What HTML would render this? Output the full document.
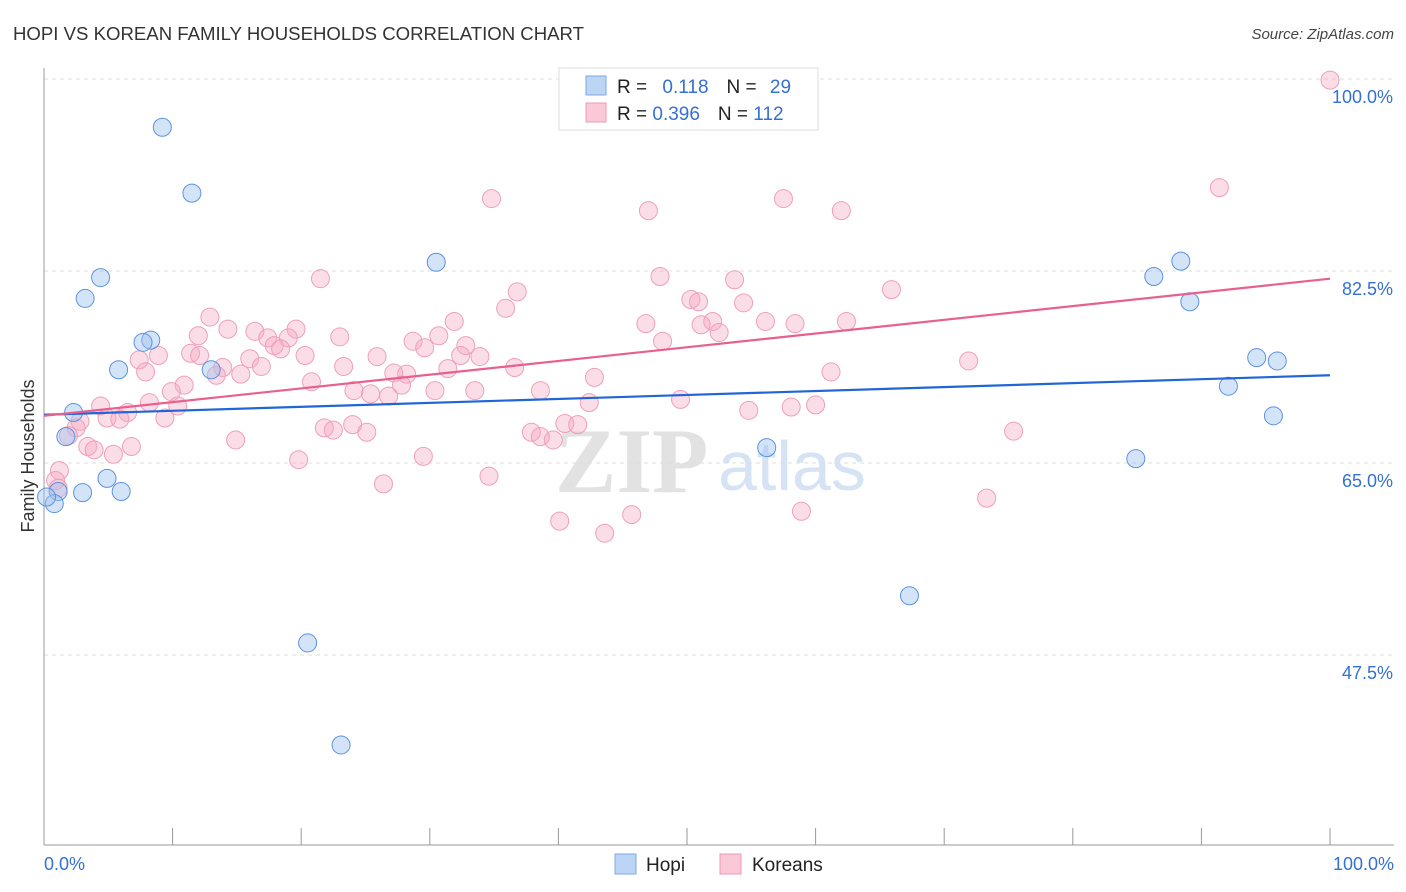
<!DOCTYPE html>
<html><head><meta charset="utf-8"><style>
body{margin:0;background:#fff;font-family:"Liberation Sans",sans-serif}
svg{display:block}
</style></head><body>
<svg id="chart" width="1406" height="892" xmlns="http://www.w3.org/2000/svg">
<text x="13" y="40" font-size="18.6" fill="#333">HOPI VS KOREAN FAMILY HOUSEHOLDS CORRELATION CHART</text>
<text x="1394" y="39" font-size="15" fill="#444" font-style="italic" text-anchor="end">Source: ZipAtlas.com</text>
<text x="555" y="492" font-size="92" fill="#e2e2e2" font-family="Liberation Serif,serif" font-weight="bold">ZIP</text>
<text x="718" y="490" font-size="70" fill="#d5e3f5">atlas</text>
<g id="grid"></g>
<g id="axes"></g>
<g id="pts"></g>
<g id="lines"></g>
<text transform="translate(34,456) rotate(-90)" font-size="18" fill="#333" text-anchor="middle">Family Households</text>
<g>
<rect x="559" y="68" width="259" height="62" fill="#fff" stroke="#ddd"/>
<rect x="586" y="76" width="20" height="19" fill="#bcd5f5" stroke="#7ea9e6"/>
<rect x="586" y="103" width="20" height="19" fill="#fbc8d8" stroke="#ee9ab5"/>
<text x="617" y="93" font-size="19" fill="#222">R = <tspan fill="#3570d4" dx="10">0.118</tspan><tspan dx="18" fill="#222">N = </tspan><tspan dx="8" fill="#3570d4">29</tspan></text>
<text x="617" y="120" font-size="19" fill="#222">R = <tspan fill="#3570d4">0.396</tspan><tspan dx="18" fill="#222">N = </tspan><tspan fill="#3570d4">112</tspan></text>
</g>
<g>
<rect x="615" y="854" width="21" height="20" fill="#bcd5f5" stroke="#7ea9e6"/>
<text x="646" y="871" font-size="19" fill="#222">Hopi</text>
<rect x="720" y="854" width="21" height="20" fill="#fbc8d8" stroke="#ee9ab5"/>
<text x="752" y="871" font-size="19" fill="#222">Koreans</text>
</g>
</svg>
<script>
const yTicks=[100,82.5,65,47.5];
const yTickLabels=["100.0%","82.5%","65.0%","47.5%"];
const xTickLabels=["0.0%","100.0%"];
const hopiX=[9.2,11.5,4.4,3.2,30.5,8.3,7.7,5.8,13.0,2.3,1.7,4.9,6.0,3.0,1.1,0.8,0.2,20.5,23.1,56.2,67.3,84.9,86.3,88.4,89.1,94.3,95.9,92.1,95.6];
const hopiY=[95.6,89.6,81.9,80.0,83.3,76.2,76.0,73.5,73.5,69.6,67.4,63.6,62.4,62.3,62.4,61.3,61.9,48.6,39.3,66.4,52.9,65.4,82.0,83.4,79.7,74.6,74.3,72.0,69.3];
const korX=[100,91.4,34.8,47.0,57.5,62.0,21.5,36.8,47.9,53.7,65.9,35.9,50.3,50.9,54.4,12.9,31.9,46.8,52.0,51.1,56.1,58.4,62.4,14.3,16.4,19.6,12.0,23.0,30.7,52.5,17.4,19.0,28.7,48.1,17.9,18.4,29.6,32.8,8.9,11.4,12.1,20.3,25.9,32.4,33.9,7.4,16.0,71.9,16.9,23.3,36.6,13.9,31.4,7.9,15.3,13.4,27.2,28.2,61.2,42.8,20.8,10.9,27.8,9.9,24.1,25.4,26.8,30.4,33.5,38.6,8.2,42.4,49.5,4.4,10.4,6.5,54.8,58.1,60.0,4.9,5.9,9.4,2.8,2.5,40.5,41.5,21.8,22.5,24.0,25.1,37.9,38.6,39.6,75.4,1.9,14.9,3.4,6.8,3.9,5.4,19.8,29.5,34.6,1.2,0.9,1.1,26.4,73.3,58.9,45.7,40.1,43.6];
const korY=[99.9,90.1,89.1,88.0,89.1,88.0,81.8,80.6,82.0,81.7,80.8,79.1,79.9,79.7,79.6,78.3,77.9,77.7,77.9,77.6,77.9,77.7,77.9,77.2,77.0,77.2,76.6,76.5,76.6,76.9,76.4,76.4,76.1,76.1,75.7,75.4,75.5,75.7,74.8,75.0,74.8,74.8,74.7,74.8,74.7,74.4,74.5,74.3,73.8,73.8,73.7,73.7,73.6,73.3,73.1,73.0,73.2,73.1,73.3,72.8,72.4,72.1,72.1,71.5,71.6,71.3,71.1,71.6,71.6,71.6,70.5,70.5,70.8,70.2,70.2,69.6,69.8,70.1,70.3,69.1,69.0,69.1,68.8,68.2,68.6,68.5,68.2,68.0,68.5,67.8,67.8,67.4,67.1,67.9,67.5,67.1,66.5,66.5,66.2,65.8,65.3,65.6,63.8,64.3,63.4,62.7,63.1,61.8,60.6,60.3,59.7,58.6];
const hopiTrend=[69.4,73.0];
const korTrend=[69.3,81.8];
const NS="http://www.w3.org/2000/svg";
const X=v=>44+v*12.86, Y=v=>79+(100-v)*192/17.5;
function mk(t,a,p){const e=document.createElementNS(NS,t);for(const k in a)e.setAttribute(k,a[k]);p.appendChild(e);return e;}
const grid=document.getElementById('grid'),axes=document.getElementById('axes'),pts=document.getElementById('pts'),lines=document.getElementById('lines');
yTicks.forEach((v,i)=>{
 const l=mk('line',{x1:44,x2:1394,y1:Y(v),y2:Y(v),stroke:'#ddd','stroke-dasharray':'4,4'},grid);
 
 
 const t=mk('text',{x:1393,y:Y(v)+24,'font-size':18,fill:'#3570d4','text-anchor':'end'},grid);
 t.textContent=yTickLabels[i];
 
 
});
const ya=mk('line',{x1:44,x2:44,y1:68,y2:845,stroke:'#999'},axes);


const xa=mk('line',{x1:44,x2:1394,y1:845,y2:845,stroke:'#999'},axes);


for(let i=0;i<=10;i++){const tk=mk('line',{x1:X(i*10),x2:X(i*10),y1:828,y2:845,stroke:'#999'},axes);
 
 }
[[0,'start',44],[1,'end',1394]].forEach(([i,a,x])=>{const t=mk('text',{x:x,y:870,'font-size':18,fill:'#3570d4','text-anchor':a},axes);t.textContent=xTickLabels[i];
 
 });
korX.forEach((v,i)=>{const c=mk('circle',{cx:X(v),cy:Y(korY[i]),r:9,fill:'rgba(246,170,195,0.4)',stroke:'#eea0b8','stroke-width':1},pts);
 
 });
hopiX.forEach((v,i)=>{const c=mk('circle',{cx:X(v),cy:Y(hopiY[i]),r:9,fill:'rgba(160,195,240,0.45)',stroke:'#5d93dd','stroke-width':1},pts);
 
 });
const hl=mk('line',{x1:X(0),x2:X(100),y1:Y(hopiTrend[0]),y2:Y(hopiTrend[1]),stroke:'#2166d6','stroke-width':2.2},lines);


const kl=mk('line',{x1:X(0),x2:X(100),y1:Y(korTrend[0]),y2:Y(korTrend[1]),stroke:'#e8608e','stroke-width':2.2},lines);


</script>
</body></html>
